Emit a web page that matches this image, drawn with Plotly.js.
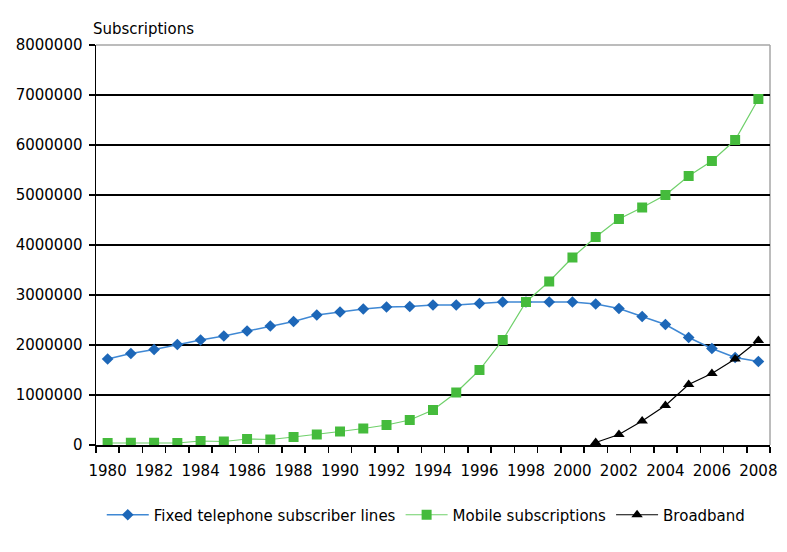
<!DOCTYPE html>
<html>
<head>
<meta charset="utf-8">
<script src="https://cdn.plot.ly/plotly-3.0.1.min.js"></script>
<style>
  html, body { margin: 0; padding: 0; background: #fff; }
  #chart { width: 787px; height: 552px; }
</style>
</head>
<body>
<div id="chart"></div>
<script>
// Years on the category axis
const years = [1980, 1981, 1982, 1983, 1984, 1985, 1986, 1987, 1988, 1989,
               1990, 1991, 1992, 1993, 1994, 1995, 1996, 1997, 1998, 1999,
               2000, 2001, 2002, 2003, 2004, 2005, 2006, 2007, 2008];

// Fixed telephone subscriber lines
const fixedLines = [1720000, 1830000, 1910000, 2010000, 2100000, 2180000, 2280000, 2380000, 2470000, 2600000,
                    2660000, 2720000, 2760000, 2770000, 2800000, 2800000, 2830000, 2860000, 2860000, 2860000,
                    2860000, 2820000, 2730000, 2570000, 2410000, 2150000, 1930000, 1750000, 1670000];

// Mobile subscriptions
const mobileSubs = [40000, 45000, 45000, 40000, 80000, 70000, 120000, 110000, 160000, 210000,
                    270000, 330000, 400000, 500000, 700000, 1050000, 1500000, 2100000, 2860000, 3270000,
                    3750000, 4160000, 4520000, 4750000, 5000000, 5380000, 5680000, 6100000, 6920000];

// Broadband subscriptions (from 2001)
const broadbandYears = [2001, 2002, 2003, 2004, 2005, 2006, 2007, 2008];
const broadband = [50000, 210000, 480000, 790000, 1210000, 1430000, 1720000, 2090000];

// Axis labels
const yTicks = [0, 1000000, 2000000, 3000000, 4000000, 5000000, 6000000, 7000000, 8000000];
const xLabelYears = years.filter(y => y % 2 === 0);

const fontFamily = 'DejaVu Sans, Liberation Sans, Arial, sans-serif';

const traces = [
  {
    x: years, y: fixedLines, name: 'Fixed telephone subscriber lines',
    type: 'scatter', mode: 'lines+markers',
    line: { color: '#3f88d4', width: 1.5 },
    marker: { symbol: 'diamond', size: 9, color: '#1d67b8' }
  },
  {
    x: years, y: mobileSubs, name: 'Mobile subscriptions',
    type: 'scatter', mode: 'lines+markers',
    line: { color: '#6fd06a', width: 1.2 },
    marker: { symbol: 'square', size: 10, color: '#45bb3c' }
  },
  {
    x: broadbandYears, y: broadband, name: 'Broadband',
    type: 'scatter', mode: 'lines+markers',
    line: { color: '#000000', width: 1.2 },
    marker: { symbol: 'triangle-up', size: 10, color: '#000000' }
  }
];

const layout = {
  width: 787, height: 552,
  margin: { l: 96, r: 17, t: 45, b: 107 },
  paper_bgcolor: '#ffffff', plot_bgcolor: '#ffffff',
  font: { family: fontFamily, size: 15, color: '#000' },
  showlegend: true,
  legend: {
    orientation: 'h', x: 0.49, xanchor: 'center', y: -0.175, yanchor: 'middle',
    font: { family: fontFamily, size: 15, color: '#000' },
    itemwidth: 42, tracegroupgap: 0
  },
  xaxis: {
    range: [1979.5, 2008.5],
    tickmode: 'array', tickvals: xLabelYears, ticktext: xLabelYears.map(String),
    ticks: '', showgrid: false, zeroline: false,
    showline: true, linecolor: '#000', linewidth: 1.5,
    tickfont: { family: fontFamily, size: 15 },
    ticklabelstandoff: 11,
    minor: { tick0: 1979.5, dtick: 1, ticks: 'outside', ticklen: 6, tickcolor: '#000', tickwidth: 1.5, showgrid: false },
    fixedrange: true
  },
  yaxis: {
    range: [0, 8000000],
    tickmode: 'array', tickvals: yTicks, ticktext: yTicks.map(String),
    ticks: 'outside', ticklen: 6, tickcolor: '#000', tickwidth: 1.5,
    showgrid: true, gridcolor: '#000', gridwidth: 1.5, zeroline: false,
    showline: true, linecolor: '#000', linewidth: 1.5,
    tickfont: { family: fontFamily, size: 15 },
    ticklabelstandoff: 3,
    fixedrange: true
  },
  annotations: [
    {
      text: 'Subscriptions', xref: 'paper', yref: 'paper', x: 0, y: 1,
      xanchor: 'left', yanchor: 'bottom', xshift: -5, yshift: 5, showarrow: false,
      font: { family: fontFamily, size: 15, color: '#000' }
    }
  ],
  shapes: [
    { type: 'line', xref: 'paper', yref: 'paper', x0: 0, x1: 1, y0: 1, y1: 1,
      line: { color: '#a6a6a6', width: 1.5 }, layer: 'above' },
    { type: 'line', xref: 'paper', yref: 'paper', x0: 1, x1: 1, y0: 0, y1: 1,
      line: { color: '#a6a6a6', width: 1.5 }, layer: 'below' }
  ]
};

Plotly.newPlot('chart', traces, layout, { displayModeBar: false, staticPlot: true });
</script>
</body>
</html>
